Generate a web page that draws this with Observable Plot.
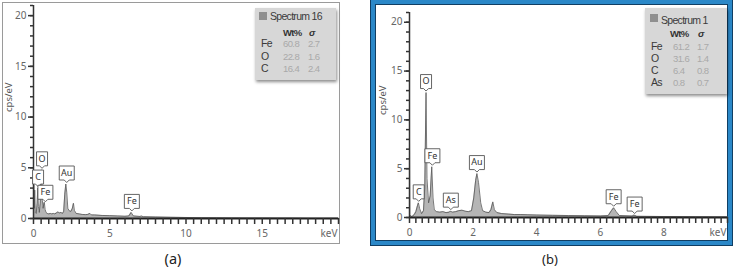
<!DOCTYPE html>
<html><head><meta charset="utf-8">
<script src="https://cdn.jsdelivr.net/npm/d3@7"></script>
<script src="https://cdn.jsdelivr.net/npm/@observablehq/plot@0.6"></script>
<style>
body{margin:0;width:734px;height:269px;background:#fff;position:relative;overflow:hidden;font-family:"Noto Sans",sans-serif;}
.abs{position:absolute;}
#frameA{left:2px;top:2px;width:336px;height:240px;border:1px solid #9a9a9a;}
#frameB{left:371px;top:0px;width:361px;height:245px;box-sizing:border-box;border:4px solid #2b88c8;box-shadow:0 0 0 1px #103e63, inset 0 0 0 1px #103e63;}
.leg{background:#d7d7d7;box-shadow:1px 2px 3px rgba(0,0,0,0.45);color:#3a3a3a;font-size:10.5px;font-family:"Liberation Sans",Arial,sans-serif;}
.leg .sw{position:absolute;width:8px;height:8px;background:#8f8f8f;}
.leg .t{position:absolute;line-height:11px;white-space:nowrap;letter-spacing:-0.7px;}
.leg .v{color:#a9a9a9;font-size:9.5px;letter-spacing:-0.6px;}
.leg .h{font-weight:bold;color:#333;font-size:9.5px;}
.cap{font-size:14.5px;color:#222;transform:translate(-50%,-50%);}
.plot svg{position:absolute;left:0;top:0;overflow:visible;max-width:none !important;}
</style></head><body>
<div id="frameA" class="abs"></div>
<div id="frameB" class="abs"></div>
<div id="plotA" class="abs plot" style="left:0px;top:0px;width:345px;height:245px;"></div>
<div id="plotB" class="abs plot" style="left:371px;top:0px;width:363px;height:245px;"></div>
<div id="legA" class="abs leg" style="left:255px;top:8px;width:81px;height:72px;"></div>
<div id="legB" class="abs leg" style="left:645px;top:8px;width:82px;height:86px;"></div>
<div class="abs cap" style="left:173px;top:258px;">(a)</div>
<div class="abs cap" style="left:550px;top:259px;font-size:13px;">(b)</div>
<script>
// ---- Spectrum (a) ----
const keVA = [0.00,0.02,0.05,0.08,0.12,0.18,0.24,0.28,0.32,0.38,0.44,0.50,0.53,0.58,0.63,0.68,0.71,0.76,0.82,0.90,1.0,1.1,1.2,1.3,1.4,1.5,1.6,1.7,1.8,1.9,1.98,2.05,2.12,2.18,2.25,2.35,2.45,2.55,2.62,2.68,2.8,3.0,3.2,3.4,3.55,3.7,3.8,4.0,4.5,5.0,5.5,6.0,6.25,6.4,6.55,7.0,7.06,7.2,8,9,10,11,12,13,14,15,16,17,18,19,20];
const cpsA = [0.0,3.3,1.0,2.8,0.6,0.5,1.5,3.0,1.2,0.6,1.5,4.6,4.8,1.8,1.0,1.5,1.6,0.9,0.6,0.5,0.45,0.5,0.45,0.5,0.45,0.55,0.65,0.55,0.6,0.5,0.7,2.4,3.4,2.6,1.0,0.75,0.7,1.0,1.5,0.8,0.5,0.45,0.4,0.38,0.4,0.5,0.35,0.35,0.3,0.28,0.25,0.22,0.25,0.6,0.25,0.2,0.25,0.18,0.15,0.12,0.1,0.08,0.07,0.06,0.05,0.05,0.04,0.04,0.03,0.03,0.03];
const peakNamesA = ["C","O","Fe","Au","Fe"];
const peakKeVA = [0.30,0.56,0.78,2.18,6.45];
const peakCpsA = [3.0,4.8,1.5,3.4,0.6];
const legTitleA = "Spectrum 16";
const legElemA = ["Fe","O","C"];
const legWtA = ["60.8","22.8","16.4"];
const legSigA = ["2.7","1.6","2.4"];
const xTicksA = [0,5,10,15];
const xMaxA = 20;

// ---- Spectrum (b) ----
const keVB = [0.00,0.01,0.05,0.1,0.15,0.2,0.25,0.28,0.32,0.38,0.44,0.48,0.52,0.55,0.60,0.65,0.70,0.74,0.78,0.85,0.95,1.05,1.15,1.25,1.28,1.35,1.45,1.55,1.65,1.75,1.85,1.95,2.02,2.08,2.12,2.17,2.24,2.3,2.4,2.5,2.56,2.62,2.67,2.75,2.9,3.1,3.3,3.5,3.7,4.0,4.5,5.0,5.5,6.0,6.25,6.35,6.42,6.5,6.6,7.0,7.06,7.15,8.0,9.0,10.0];
const cpsB = [8.1,0.3,0.1,0.15,0.3,0.6,1.2,1.5,0.9,0.4,0.7,3.0,12.8,4.0,1.5,2.2,5.2,2.0,0.8,0.6,0.55,0.6,0.5,0.55,0.65,0.55,0.6,0.7,0.75,0.65,0.6,0.7,2.0,3.8,4.5,3.6,1.5,0.7,0.55,0.5,0.8,1.6,0.8,0.5,0.4,0.35,0.3,0.3,0.28,0.25,0.22,0.2,0.18,0.16,0.2,0.7,1.0,0.6,0.2,0.15,0.25,0.12,0.1,0.08,0.06];
const peakNamesB = ["C","O","Fe","As","Au","Fe","Fe"];
const peakKeVB = [0.29,0.52,0.72,1.30,2.12,6.42,7.08];
const peakCpsB = [1.5,12.8,5.2,0.65,4.5,1.0,0.25];
const legTitleB = "Spectrum 1";
const legElemB = ["Fe","O","C","As"];
const legWtB = ["61.2","31.6","6.4","0.8"];
const legSigB = ["1.7","1.4","0.8","0.7"];
const xTicksB = [0,2,4,6,8];
const xMaxB = 10;

const yMajor = [0,5,10,15,20];
const yMax = 21;

function boxSymbol(w){
  return {draw(ctx){
    ctx.moveTo(0,-1.5); ctx.lineTo(-2.5,-4); ctx.lineTo(-w/2,-4); ctx.lineTo(-w/2,-18);
    ctx.lineTo(w/2,-18); ctx.lineTo(w/2,-4); ctx.lineTo(2.5,-4); ctx.closePath();
  }};
}

function panel(cfg){
  const spec = cfg.keV.map((k,i)=>({k, c: cfg.cps[i]}));
  const peaks = cfg.names.map((n,i)=>({n, k: cfg.pk[i], c: cfg.pc[i]}));
  const minorX = d3.range(0, cfg.xMax + 1e-9, cfg.xStep);
  const minorY = d3.range(0, yMax + 1e-9, 1);
  const tickStyle = {stroke: "#333", strokeWidth: 1.5};
  return Plot.plot({
    width: cfg.width, height: cfg.height,
    marginLeft: cfg.ml, marginRight: cfg.mr, marginTop: cfg.mt, marginBottom: cfg.mb,
    style: {fontFamily: '"Noto Sans", sans-serif', background: "transparent", overflow: "visible"},
    x: {domain: [0, cfg.xMax], axis: null},
    y: {domain: [0, yMax], axis: null},
    marks: [
      Plot.areaY(spec, {x: "k", y: "c", fill: "#b5b5b5"}),
      Plot.lineY(spec, {x: "k", y: "c", stroke: "#555", strokeWidth: 0.8}),
      Plot.ruleX([0], {x: d => d, y1: 0, y2: yMax, stroke: "#333", strokeWidth: 1.5}),
      Plot.ruleY([0], {y: d => d, x1: 0, x2: cfg.xMax, stroke: "#222", strokeWidth: 2}),
      Plot.ruleX(minorX, {x: d => d, y1: 0, y2: 0, insetBottom: -6, ...tickStyle}),
      Plot.ruleY(minorY, {y: d => d, x1: 0, x2: 0, insetLeft: -3, ...tickStyle}),
      Plot.ruleY(yMajor, {y: d => d, x1: 0, x2: 0, insetLeft: -5, ...tickStyle}),
      Plot.text(cfg.xTicks, {x: d => d, text: d => String(d), frameAnchor: "bottom", dy: 18, fontSize: 10, fill: "#666"}),
      Plot.text(yMajor, {y: d => d, text: d => String(d), frameAnchor: "left", textAnchor: "end", dx: -7, fontSize: 10, fill: "#666"}),
      Plot.text(["cps/eV"], {frameAnchor: "left", rotate: -90, dx: cfg.ylabDx, fontSize: 9.5, fill: "#555", text: d => d}),
      Plot.text(["keV"], {frameAnchor: "bottom-right", textAnchor: "end", dy: 18, dx: -1, fontSize: 10, fill: "#666", text: d => d}),
      Plot.dot(peaks.filter(p => p.n.length < 2), {x: "k", y: "c", symbol: boxSymbol(11), r: 5, fill: "white", stroke: "#555", strokeWidth: 0.9}),
      Plot.dot(peaks.filter(p => p.n.length >= 2), {x: "k", y: "c", symbol: boxSymbol(15), r: 5, fill: "white", stroke: "#555", strokeWidth: 0.9}),
      Plot.text(peaks, {x: "k", y: "c", text: "n", dy: -11, fontSize: 9, fill: "#333"})
    ]
  });
}

document.getElementById("plotA").append(panel({
  keV: keVA, cps: cpsA, names: peakNamesA, pk: peakKeVA, pc: peakCpsA,
  xMax: xMaxA, xStep: 0.5, xTicks: xTicksA,
  width: 345, height: 245, ml: 33, mr: 7, mt: 5, mb: 27, ylabDx: -25
}));
document.getElementById("plotB").append(panel({
  keV: keVB, cps: cpsB, names: peakNamesB, pk: peakKeVB, pc: peakCpsB,
  xMax: xMaxB, xStep: 0.2, xTicks: xTicksB,
  width: 363, height: 245, ml: 38, mr: 7, mt: 12, mb: 28, ylabDx: -27
}));

function legend(el, title, elems, wts, sigs, g){
  let h = `<div class="sw" style="left:${g.swX}px;top:${g.swY}px;"></div>`;
  h += `<div class="t" style="left:${g.titleX}px;top:${g.titleY-5.5}px;">${title}</div>`;
  h += `<div class="t h" style="left:${g.wtX}px;top:${g.headY-5.5}px;">Wt%</div>`;
  h += `<div class="t h" style="left:${g.sgX+1}px;top:${g.headY-5.5}px;font-style:italic;">σ</div>`;
  elems.forEach((e,i)=>{
    const y = g.rowY + i*g.rowH - 5.5;
    h += `<div class="t" style="left:${g.labX}px;top:${y}px;">${e}</div>`;
    h += `<div class="t v" style="left:${g.valX}px;top:${y}px;">${wts[i]}</div>`;
    h += `<div class="t v" style="left:${g.sgX}px;top:${y}px;">${sigs[i]}</div>`;
  });
  el.innerHTML = h;
}
legend(document.getElementById("legA"), legTitleA, legElemA, legWtA, legSigA,
  {swX:4, swY:4, titleX:15, titleY:8, headY:24, wtX:28, valX:28, sgX:53, labX:6, rowY:35.5, rowH:12.7});
legend(document.getElementById("legB"), legTitleB, legElemB, legWtB, legSigB,
  {swX:5, swY:6, titleX:16, titleY:12, headY:25.5, wtX:25, valX:28, sgX:52, labX:6, rowY:38, rowH:12.2});
</script>
</body></html>
